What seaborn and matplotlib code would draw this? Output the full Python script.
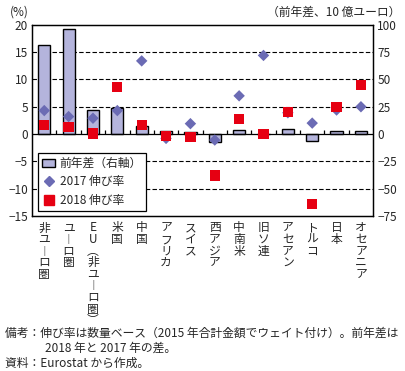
import numpy as np
import pandas as pd
import seaborn as sns
import matplotlib.pyplot as plt
from matplotlib.patches import Patch
from matplotlib.lines import Line2D

categories = ['非ユーロ圏', 'ユーロ圏', 'EU(非ユーロ圏)', '米国', '中国', 'アフリカ', 'スイス',
              '西アジア', '中南米', '旧ソ連', 'アセアン', 'トルコ', '日本', 'オセアニア']
# vertical labels, one character per line
vertical_labels = ['非\nユ\n︱\nロ\n圏', 'ユ\n︱\nロ\n圏', 'E\nU\n︵\n非\nユ\n︱\nロ\n圏\n︶', '米\n国',
                   '中\n国', 'ア\nフ\nリ\nカ', 'ス\nイ\nス', '西\nア\nジ\nア', '中\n南\n米',
                   '旧\nソ\n連', 'ア\nセ\nア\nン', 'ト\nル\nコ', '日\n本', 'オ\nセ\nア\nニ\nア']

diff_bn = [82, 96, 21.7, 23.5, 7, 3, 1.5, -7.6, 3.4, 0.3, 4.3, -6.7, 2.5, 2.5]   # right axis
growth_2017 = [4.3, 3.2, 2.9, 4.3, 13.4, -0.8, 1.9, -1.1, 7.0, 14.4, 3.9, 2.0, 4.4, 5.0]
growth_2018 = [1.6, 1.3, 0.1, 8.6, 1.7, -0.4, -0.5, -7.6, 2.8, 0.0, 4.1, -12.8, 5.0, 9.0]

bar_color = '#b4b4dc'
diamond_color = '#6b6bb4'
square_color = '#e60012'

sns.set_style('white')
plt.rcParams['font.family'] = ['Noto Sans CJK JP', 'DejaVu Sans']
plt.rcParams['font.size'] = 8

df = pd.DataFrame({'cat': categories, 'pos': np.arange(len(categories)),
                   'diff': diff_bn, 'g2017': growth_2017, 'g2018': growth_2018})

fig = plt.figure(figsize=(4.06, 3.71), dpi=100)
ax = fig.add_axes([0.079, 0.418, 0.840, 0.515])
ax2 = ax.twinx()

# bars on the right axis
sns.barplot(data=df, x='pos', y='diff', ax=ax2, color=bar_color, saturation=1,
            edgecolor='black', linewidth=1, width=0.5, zorder=2)
ax2.set_ylim(-75, 100)
ax2.set_yticks(np.arange(-75, 101, 25))
for v in [75, 50, 25, -25, -50]:
    ax2.axhline(v, color='black', lw=0.8, ls=(0, (4, 2)), zorder=1)

# growth rates on the left axis
sns.scatterplot(data=df, x='pos', y='g2017', ax=ax, marker='D', s=34,
                color=diamond_color, edgecolor='none', zorder=3)
sns.scatterplot(data=df, x='pos', y='g2018', ax=ax, marker='s', s=55,
                color=square_color, edgecolor='none', zorder=4)
ax.set_zorder(ax2.get_zorder() + 1)
ax.patch.set_visible(False)

ax.set_ylim(-15, 20)
ax.set_yticks(np.arange(-15, 21, 5))
ax.set_xlim(-0.5, len(categories) - 0.5)
ax.axhline(0, color='black', lw=0.9, zorder=2)
ax.vlines(np.arange(0.5, len(categories) - 1), 0, 0.8, color='black', lw=0.9)

ax.set_xticks(df['pos'])
ax.set_xticklabels(vertical_labels, linespacing=0.86, va='top', fontsize=8.5)
ax.set_xlabel('')
ax.set_ylabel('')
ax2.set_xlabel('')
ax2.set_ylabel('')
ax.tick_params(axis='x', length=0, pad=4)
ax.tick_params(axis='y', length=0, pad=3, labelsize=8.5)
ax2.tick_params(axis='y', length=0, pad=3, labelsize=8.5)
for a in (ax, ax2):
    for s in a.spines.values():
        s.set_color('black')
        s.set_linewidth(0.9)

handles = [Patch(facecolor=bar_color, edgecolor='black', linewidth=1),
           Line2D([], [], marker='D', ls='', color=diamond_color, markersize=5.5),
           Line2D([], [], marker='s', ls='', color=square_color, markersize=7)]
leg = ax.legend(handles, ['前年差（右軸）', '2017 伸び率', '2018 伸び率'],
                loc='lower left', bbox_to_anchor=(0.008, 0.008), fancybox=False,
                edgecolor='black', framealpha=1, borderpad=0.35, labelspacing=0.45,
                handlelength=1.1, handletextpad=0.35, borderaxespad=0.3, fontsize=8.5)
leg.get_frame().set_linewidth(0.9)

fig.text(0.025, 0.967, '(%)', ha='left', va='center', fontsize=8.5)
fig.text(0.985, 0.967, '（前年差、10 億ユーロ）', ha='right', va='center', fontsize=8.5)

fig.text(0.012, 1 - 333 / 371, '備考：伸び率は数量ベース（2015 年合計金額でウェイト付け）。前年差は',
         ha='left', va='center', fontsize=8.5)
fig.text(0.111, 1 - 348 / 371, '2018 年と 2017 年の差。', ha='left', va='center', fontsize=8.5)
fig.text(0.012, 1 - 363 / 371, '資料：Eurostat から作成。', ha='left', va='center', fontsize=8.5)

fig.savefig('out.png', dpi=100)
